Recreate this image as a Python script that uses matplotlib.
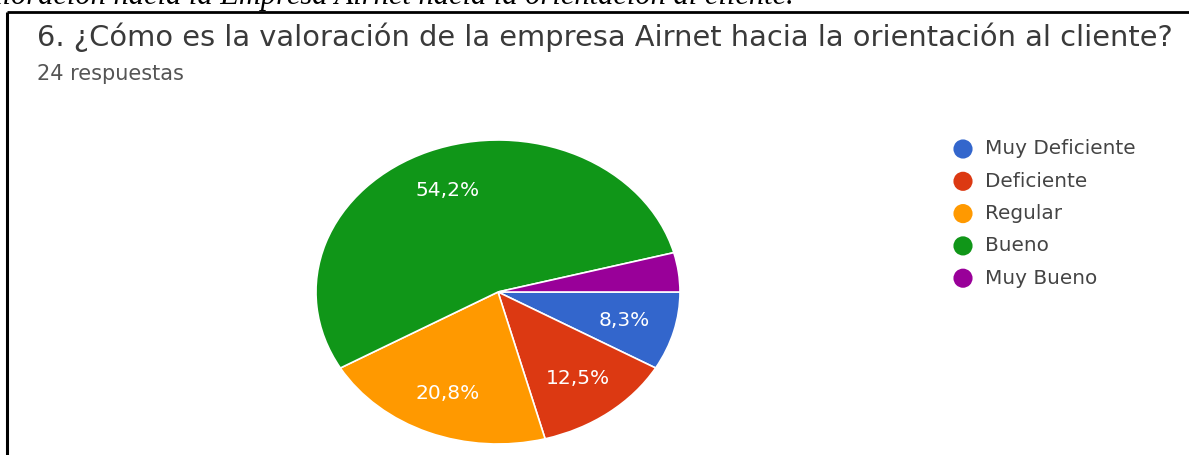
import matplotlib.pyplot as plt

# survey answers (24 responses)
categories = ["Muy Deficiente", "Deficiente", "Regular", "Bueno", "Muy Bueno"]
counts = [2, 3, 5, 13, 1]
colors = ["#3366cc", "#dc3912", "#ff9900", "#109618", "#990099"]

title = "6. ¿Cómo es la valoración de la empresa Airnet hacia la orientación al cliente?"
subtitle = "24 respuestas"
caption = "Valoración hacia la Empresa Airnet hacia la orientación al cliente."

W, H = 1189, 455
fig = plt.figure(figsize=(W / 100, H / 100), dpi=100)
fig.patch.set_facecolor("white")

# overlay axes in pixel coordinates for text and frame
bg = fig.add_axes([0, 0, 1, 1])
bg.set_xlim(0, W)
bg.set_ylim(H, 0)
bg.axis("off")

# caption running off the top edge
bg.text(-28, 4, caption, fontsize=22, style="italic", family="Liberation Serif",
        color="black", va="baseline", ha="left")

# frame: top and left lines
bg.plot([7, W], [12, 12], color="black", lw=2, solid_capstyle="butt")
bg.plot([7, 7], [12, H], color="black", lw=2.2, solid_capstyle="butt")

bg.text(37, 46, title, fontsize=20.8, family="DejaVu Sans", color="#3a3a3a",
        va="baseline", ha="left")
bg.text(37, 80, subtitle, fontsize=15, family="DejaVu Sans", color="#555555",
        va="baseline", ha="left")

# pie, stretched horizontally
cx, cy, rx, ry = 498, 292, 182, 152
ax = fig.add_axes([(cx - rx) / W, (H - cy - ry) / H, 2 * rx / W, 2 * ry / H])


def fmt(p):
    return f"{p:.1f}%".replace(".", ",") if p >= 5 else ""


wedges, texts, autotexts = ax.pie(
    counts, colors=colors, startangle=0, counterclock=False,
    autopct=fmt, pctdistance=0.72,
    wedgeprops=dict(edgecolor="white", linewidth=1.2),
    textprops=dict(color="white", fontsize=14.5, family="DejaVu Sans"),
)
ax.set_aspect("auto")
ax.set_xlim(-1, 1)
ax.set_ylim(-1, 1)
ax.axis("off")

# legend
for i, (name, c) in enumerate(zip(categories, colors)):
    y = 149 + i * 32.3
    bg.scatter([963], [y], s=190, color=c, edgecolors="none")
    bg.text(985, y, name, fontsize=14.4, family="DejaVu Sans", color="#444444",
            va="center", ha="left")

fig.savefig("out.png", dpi=100, facecolor="white")
